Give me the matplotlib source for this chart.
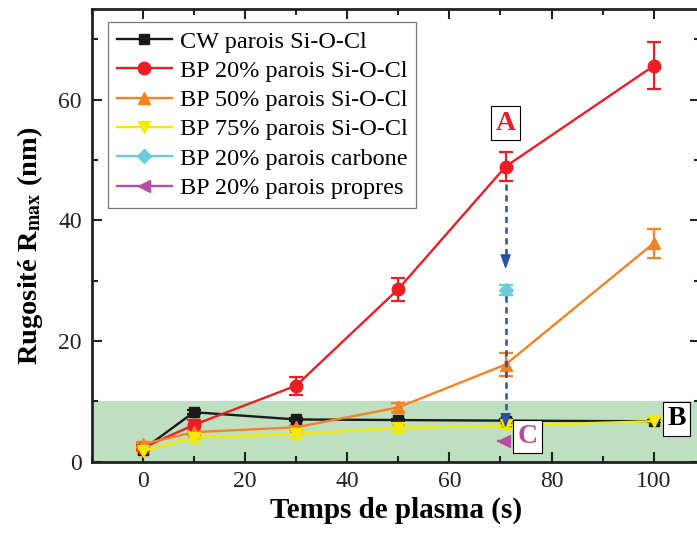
import matplotlib
matplotlib.use("Agg")
import matplotlib.pyplot as plt
from matplotlib.ticker import MultipleLocator

plt.rcParams['font.family'] = ['Liberation Serif', 'DejaVu Serif']
plt.rcParams['mathtext.fontset'] = 'stix'

# ---- data ----
t_all = [0, 10, 30, 50, 71, 100]
cw_y = [2.0, 8.2, 7.0, 6.9, 6.8, 6.7]
cw_err = [0.5, 0.3, 0.3, 0.2, 0.2, 0.3]
bp20_y = [2.3, 6.1, 12.6, 28.6, 48.9, 65.6]
bp20_err = [0.4, 0.8, 1.5, 1.9, 2.4, 3.9]
bp50_y = [2.9, 4.9, 5.7, 9.0, 16.1, 36.2]
bp50_err = [0.4, 0.4, 0.4, 0.8, 1.9, 2.4]
bp75_y = [1.8, 4.0, 4.6, 5.6, 6.0, 6.7]
bp75_err = [0.4, 0.8, 0.8, 0.6, 0.5, 0.5]
carb_t = [71]
carb_y = [28.5]
carb_err = [0.8]
prop_t = [70.6]
prop_y = [3.5]
prop_err = [0.0]

labels = ["CW parois Si-O-Cl", "BP 20% parois Si-O-Cl", "BP 50% parois Si-O-Cl",
          "BP 75% parois Si-O-Cl", "BP 20% parois carbone", "BP 20% parois propres"]
colors = ["#1a1a1a", "#ee1c25", "#f58220", "#f3ea00", "#6bcbdb", "#b54ea0"]

# arrows (A -> carbone -> C)
arrow_x = [71, 71]
arrow_from = [46.0, 27.4]
arrow_to = [31.9, 5.6]

fig = plt.figure(figsize=(6.97, 5.37), dpi=100)
ax = fig.add_axes([91.7/697, (537-461.7)/537, (5.11*119)/697, 452.7/537])
ax.set_xlim(-10, 109)
ax.set_ylim(0, 75)

# green zone
ax.axhspan(0, 10, color="#bfe0c0", zorder=0, lw=0)

series = [
    (t_all, cw_y, cw_err, 's', 7),
    (t_all, bp20_y, bp20_err, 'o', 9),
    (t_all, bp50_y, bp50_err, '^', 9),
    (t_all, bp75_y, bp75_err, 'v', 9),
    (carb_t, carb_y, carb_err, 'D', 7),
    (prop_t, prop_y, prop_err, '<', 9),
]
handles = []
for (x, y, e, m, ms), c, lab in zip(series, colors, labels):
    h = ax.errorbar(x, y, yerr=e, color=c, marker=m, ms=ms, lw=1.7,
                    elinewidth=1.6, capsize=5, capthick=1.6, label=lab, zorder=3)
    handles.append(h.lines[0])

blue = "#2a4fa8"
for xa, y0, y1 in zip(arrow_x, arrow_from, arrow_to):
    ax.plot([xa, xa], [y0, y1 + 1.2], color=blue, lw=1.8, ls=(0, (2.5, 1.8)), zorder=4)
    ax.annotate("", xy=(xa, y1), xytext=(xa, y1 + 2.2),
                arrowprops=dict(arrowstyle="-|>,head_length=0.55,head_width=0.2",
                                color=blue, lw=1.0, mutation_scale=16,
                                shrinkA=0, shrinkB=0), zorder=4)

box = dict(boxstyle="square,pad=0.15", fc="white", ec="black", lw=0.8)
ax.text(71.0, 56.1, "A", color="#ee1c25", fontsize=20, fontweight="bold",
        ha="center", va="center", bbox=box, zorder=5)
ax.text(75.3, 4.15, "C", color="#b54ea0", fontsize=20, fontweight="bold",
        ha="center", va="center", bbox=box, zorder=5)
ax.text(104.5, 7.1, "B", color="black", fontsize=20, fontweight="bold",
        ha="center", va="center", bbox=box, zorder=5)

ax.xaxis.set_major_locator(MultipleLocator(20))
ax.xaxis.set_minor_locator(MultipleLocator(10))
ax.yaxis.set_major_locator(MultipleLocator(20))
ax.yaxis.set_minor_locator(MultipleLocator(10))
ax.tick_params(which='both', direction='in', top=True, right=True, width=1.5,
               labelsize=17, pad=7, colors='#222222')
ax.tick_params(which='major', length=7)
ax.tick_params(which='minor', length=4)
for s in ax.spines.values():
    s.set_linewidth(2)
    s.set_color('#222222')

ax.set_xlabel("Temps de plasma (s)", fontsize=21, fontweight="bold", labelpad=3)
ax.set_ylabel(r"Rugosité R$_{\mathbf{max}}$ (nm)", fontsize=20.5, fontweight="bold")
ax.yaxis.set_label_coords(-0.077, 0.476)

leg = ax.legend(handles=handles, labels=labels, loc="upper left",
                bbox_to_anchor=((108-91.7)/608, (461.7-22)/452.7), borderaxespad=0,
                fontsize=17.5, frameon=True,
                fancybox=False, edgecolor="#555555", handlelength=2.3,
                borderpad=0.35, labelspacing=0.3, handletextpad=0.3)
leg.get_frame().set_linewidth(0.9)

fig.savefig("out.png", dpi=100)
